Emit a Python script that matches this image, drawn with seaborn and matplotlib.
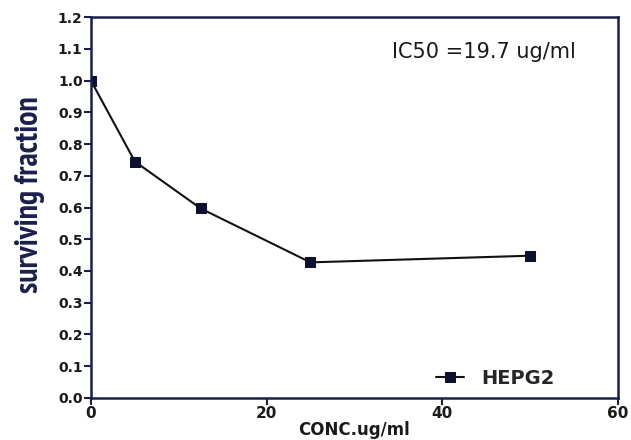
import matplotlib
matplotlib.use("Agg")
import matplotlib.pyplot as plt
from matplotlib import font_manager
import seaborn as sns
import pandas as pd

conc = [0, 5, 12.5, 25, 50]
surviving = [1.0, 0.745, 0.597, 0.427, 0.448]
series_name = "HEPG2"
x_ticks = [0, 20, 40, 60]
y_ticks = [0.0, 0.1, 0.2, 0.3, 0.4, 0.5, 0.6, 0.7, 0.8, 0.9, 1.0, 1.1, 1.2]

df = pd.DataFrame({"conc": conc, "surv": surviving, "cell": [series_name] * len(conc)})

sns.set_style("ticks")
plt.rcParams["font.family"] = ["Liberation Sans", "DejaVu Sans"]

# find a condensed bold font if available
cond_family, cond_stretch = None, "normal"
for f in font_manager.fontManager.ttflist:
    if "Narrow" in f.name and f.weight in (700, "bold"):
        cond_family = f.name
        break
if cond_family is None:
    for f in font_manager.fontManager.ttflist:
        if f.stretch == "condensed" and f.weight in (700, "bold"):
            cond_family, cond_stretch = f.name, "condensed"
            break

navy = "#1b1f4b"
fig = plt.figure(figsize=(6.31, 4.40), dpi=100)
ax = fig.add_axes([0.1442, 0.096, 0.8348, 0.8647])

sns.lineplot(data=df, x="conc", y="surv", hue="cell", palette=["#111111"],
             marker="s", markersize=7, markeredgecolor="#0d1030", markerfacecolor="#0d1030",
             linewidth=1.5, ax=ax)

ax.set_xlim(0, 60)
ax.set_ylim(0, 1.2)
ax.set_xticks(x_ticks)
ax.set_yticks(y_ticks)
ax.set_xticklabels([str(t) for t in x_ticks], fontsize=11, fontweight="bold", family=["DejaVu Sans"])
ax.set_yticklabels([f"{t:.1f}" for t in y_ticks], fontsize=10, fontweight="bold", family=["DejaVu Sans"])

for s in ax.spines.values():
    s.set_visible(True)
    s.set_color(navy)
    s.set_linewidth(1.8)
ax.tick_params(axis="both", colors=navy, length=5, width=1.5, labelcolor="#1a1a1a", pad=1)

ax.set_xlabel("CONC.ug/ml", fontsize=12, fontweight="bold", family=["DejaVu Sans"], color="#1a1a1a")
ax.xaxis.set_label_coords(0.5, -0.062)

if cond_family is not None:
    ax.set_ylabel("surviving fraction", fontsize=23, fontweight="bold",
                  family=[cond_family, "DejaVu Sans"], fontstretch=cond_stretch, color=navy)
else:
    ax.set_ylabel("surviving fraction", fontsize=15, fontweight="bold",
                  family=["DejaVu Sans"], color=navy)
ax.yaxis.set_label_coords(-0.087, 0.535)

ax.text(0.92, 0.91, "IC50 =19.7 ug/ml", transform=ax.transAxes, ha="right", va="center",
        fontsize=15, family=["DejaVu Sans"], color="#1a1a1a")

leg = ax.legend(loc="lower right", bbox_to_anchor=(0.913, -0.02), frameon=False,
                handlelength=1.4, handletextpad=0.9,
                prop={"family": "DejaVu Sans", "weight": "bold", "size": 14})

fig.savefig("out.png", dpi=100)
